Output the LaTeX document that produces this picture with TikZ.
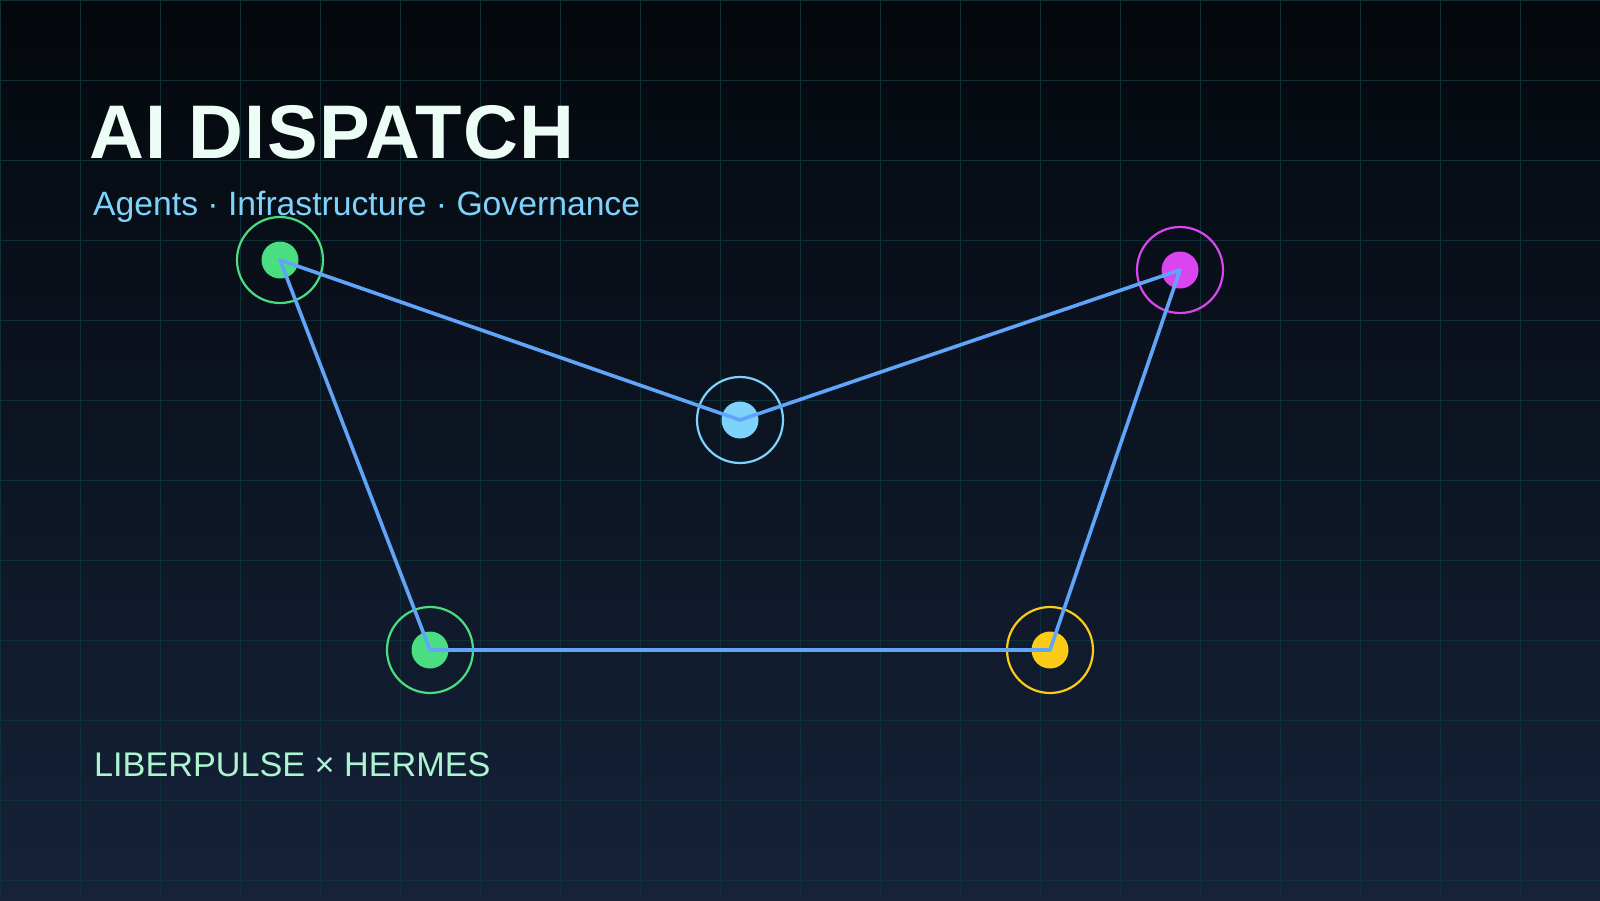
\documentclass[tikz,border=0pt]{standalone}
\usepackage{fontspec}
\setmainfont{Liberation Sans}
\definecolor{bgtop}{HTML}{04080C}
\definecolor{bgbot}{HTML}{15223A}
\definecolor{gridc}{HTML}{0F3036}
\definecolor{titlec}{HTML}{ECFDF5}
\definecolor{subc}{HTML}{7DD3FC}
\definecolor{footc}{HTML}{ABF5CF}
\definecolor{edgec}{HTML}{60A5FA}
\definecolor{cgreen}{HTML}{4ADE80}
\definecolor{cblue}{HTML}{7DD3FC}
\definecolor{cmag}{HTML}{D946EF}
\definecolor{cyel}{HTML}{FACC15}
\tikzset{
  ring/.style={circle, draw=#1, line width=2.2pt, minimum size=86pt, inner sep=0pt},
  dot/.style={circle, fill=#1, minimum size=37pt, inner sep=0pt},
  link/.style={draw=edgec, line width=3.6pt, line join=round},
  gridline/.style={draw=gridc, line width=1pt}
}
\begin{document}
\begin{tikzpicture}[x=1pt,y=-1pt]
\useasboundingbox (0,0) rectangle (1600,900);
\shade[top color=bgtop, bottom color=bgbot] (0,0) rectangle (1600,900);
\foreach \i in {0,80,...,1600} { \draw[gridline] (\i,0) -- (\i,900); }
\foreach \j in {0,80,...,880} { \draw[gridline] (0,\j) -- (1600,\j); }

\node[anchor=base west, inner sep=0pt, text=titlec, font=\fontsize{76}{80}\selectfont\bfseries\addfontfeature{LetterSpace=1.6}] (title) at (89,158) {AI DISPATCH};
\node[anchor=base west, inner sep=0pt, text=subc, font=\fontsize{33.7}{38}\selectfont] (sub) at (93,215) {Agents · Infrastructure · Governance};
\node[anchor=base west, inner sep=0pt, text=footc, font=\fontsize{34.2}{38}\selectfont] (foot) at (94,776) {LIBERPULSE × HERMES};

\node[ring=cgreen] (r1) at (280,260) {};
\node[dot=cgreen] (n1) at (280,260) {};
\node[ring=cblue] (r2) at (740,420) {};
\node[dot=cblue] (n2) at (740,420) {};
\node[ring=cmag] (r3) at (1180,270) {};
\node[dot=cmag] (n3) at (1180,270) {};
\node[ring=cyel] (r4) at (1050,650) {};
\node[dot=cyel] (n4) at (1050,650) {};
\node[ring=cgreen] (r5) at (430,650) {};
\node[dot=cgreen] (n5) at (430,650) {};

\draw[link] (n1.center) -- (n2.center) -- (n3.center) -- (n4.center) -- (n5.center) -- cycle;
\end{tikzpicture}
\end{document}
